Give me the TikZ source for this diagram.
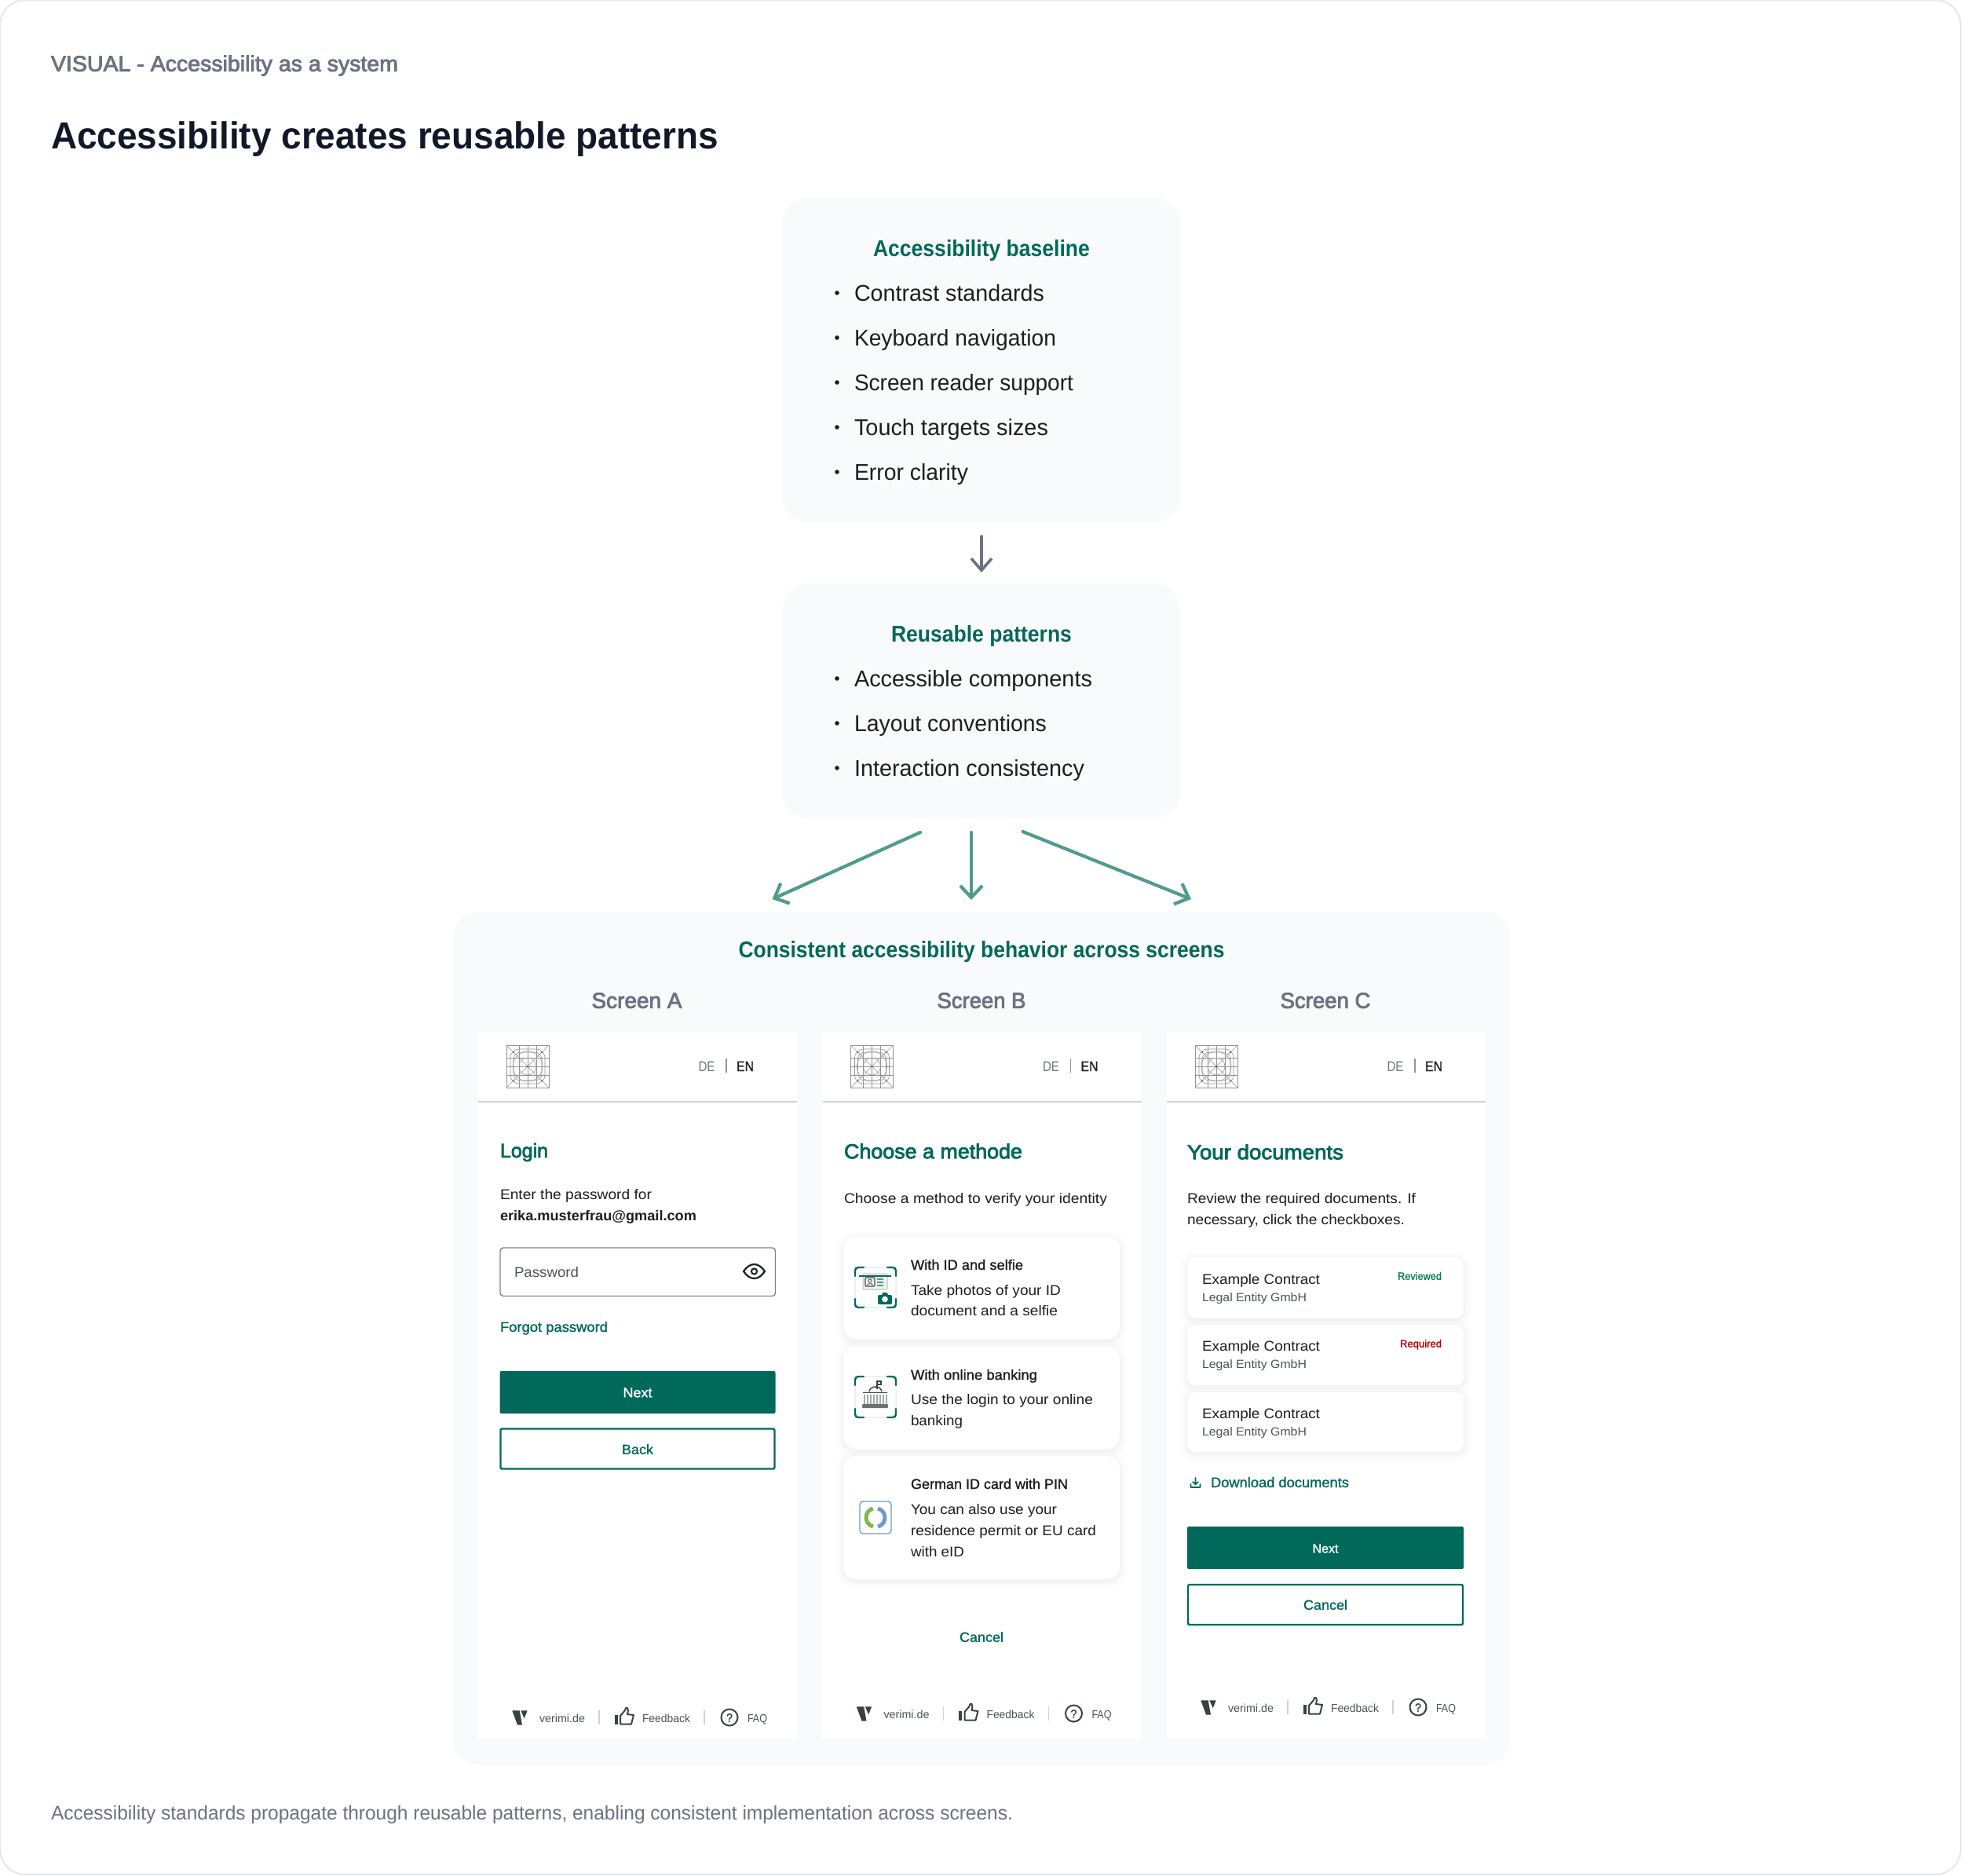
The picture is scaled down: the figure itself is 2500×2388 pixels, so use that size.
\documentclass[tikz,border=0pt]{standalone}
\usepackage{graphicx}
\usepackage{fontspec}
\setmainfont{Liberation Sans}
\newfontfamily\medf[FakeBold=1.2]{Liberation Sans}
\newfontfamily\semif[FakeBold=3]{Liberation Sans}
\usetikzlibrary{arrows.meta,calc}
\definecolor{brand}{HTML}{00695A}
\definecolor{arrowgreen}{HTML}{4F9C8E}
\definecolor{panelbg}{HTML}{F9FAFB}
\definecolor{frameline}{HTML}{E5E7EB}
\definecolor{greytxt}{HTML}{6B7280}
\definecolor{ink}{HTML}{111827}
\definecolor{dark}{HTML}{1C1F1E}
\definecolor{foot}{HTML}{4A5552}
\definecolor{footicon}{HTML}{34453F}
\definecolor{rule}{HTML}{CFD4D3}
\definecolor{ringgreen}{HTML}{7CB84A}
\definecolor{ringblue}{HTML}{6C9BD2}
\newsavebox\fitbox
\newcommand\fitw[2]{\sbox\fitbox{#2}\pgfmathsetmacro\fitr{#1/\the\wd\fitbox}\scalebox{\fitr}[1]{\usebox\fitbox}}
\newcounter{tn}
\newcommand\T[6][]{\stepcounter{tn}\node[txt,#1] (t\arabic{tn}) at ({#2},{#3+0.277*#5+2}) {\fontsize{#5}{#5}\selectfont\fitw{#4}{#6}};}
\newcommand\softcard[5]{%
  \foreach \s/\o in {10/0.006,7/0.008,4/0.012,2/0.016}{%
    \fill[black,opacity=\o,rounded corners=#5+\s] (#1-\s,#2-\s+2) rectangle (#3+\s,#4+\s+2);}
  \fill[white,rounded corners=#5] (#1,#2) rectangle (#3,#4);}
\newcommand\logogrid{%
  \begin{scope}[draw=black!42,line width=0.6pt]
    \draw (645,1331) rectangle (699,1385);
    \draw (645,1331) -- (699,1385) (699,1331) -- (645,1385);
    \draw[rounded corners=11pt] (650,1336) rectangle (694,1380);
    \draw[rounded corners=9pt] (654,1340) rectangle (690,1376);
    \draw (672,1358) circle (11);
    \draw (672,1358) circle (19);
    \foreach \d in {-11,0,11}{\draw (672+\d,1331) -- (672+\d,1385) (645,1358+\d) -- (699,1358+\d);}
  \end{scope}
  \fill[black!70] (672,1358) circle (1.2) (654,1340) circle (1) (690,1340) circle (1) (654,1376) circle (1) (690,1376) circle (1);}
\newcommand\screenhead{%
  \logogrid
  \T[text=foot!80,anchor=base]{900}{1357}{21}{18}{DE}
  \draw[rule!70!black,line width=1.5pt] (925,1348) -- (925,1366);
  \T[text=dark,anchor=base]{949}{1357}{22}{18}{\medf EN}
  \draw[rule,line width=2pt] (609,1403) -- (1015,1403);}
\newcommand\screenfoot{%
  \fill[footicon] (652.3,2178.3) -- (661.7,2178.3) -- (665,2196.7) -- (659,2196.7) -- cycle;
  \fill[footicon] (663.3,2178.3) -- (671.7,2178.3) -- (667.7,2188.3) -- cycle;
  \T[text=foot]{687}{2187}{58}{14.5}{verimi.de}
  \draw[rule,line width=1.5pt] (763,2178) -- (763,2196);
  \fill[footicon] (782.7,2184) rectangle (786.7,2196);
  \draw[footicon,line width=2pt,line join=round] (790,2185) -- (796,2178) -- (797,2175) -- (799,2175) -- (800,2178) -- (799,2183) -- (807,2184) -- (804,2195.5) -- (790,2195.5) -- cycle;
  \T[text=foot]{818}{2187}{61}{14.5}{Feedback}
  \draw[rule,line width=1.5pt] (897,2178) -- (897,2196);
  \draw[footicon,line width=2pt] (929,2187) circle (10.5);
  \T[text=footicon,anchor=base]{929}{2186.5}{8}{15}{\medf ?}
  \T[text=foot]{952}{2187}{25}{14.5}{FAQ}}
\newcommand\frameicon[4]{%
  \draw[black!7,line width=1.5pt,rounded corners=4pt] (#1,#2) rectangle (#3,#4);
  \draw[brand,line width=2.4pt,rounded corners=4pt,line cap=round]
    (#1,#2+11) -- (#1,#2) -- (#1+11,#2)
    (#3-11,#2) -- (#3,#2) -- (#3,#2+11)
    (#1,#4-11) -- (#1,#4) -- (#1+11,#4)
    (#3-11,#4) -- (#3,#4) -- (#3,#4-11);}
\tikzset{
  x=1pt,y=-1pt,
  txt/.style={anchor=base west,inner sep=0pt,outer sep=0pt},
  softbox/.style={fill=panelbg,rounded corners=32pt,inner sep=0pt,outer sep=0pt},
  screencard/.style={fill=white,inner sep=0pt,outer sep=0pt,minimum width=406pt,minimum height=901pt},
  flowdown/.style={draw=greytxt,line width=3.6pt,line cap=round,-{Straight Barb[length=15pt,width=26pt,line width=3.6pt]}},
  fanout/.style={draw=arrowgreen,line width=4.2pt,line cap=round,-{Straight Barb[length=15pt,width=28pt,line width=4.2pt]}},
  primarybtn/.style={fill=brand,rounded corners=2pt},
  outlinebtn/.style={draw=brand,fill=white,line width=2.4pt,rounded corners=2pt},
  heading/.style={text=brand,anchor=base},
  listitem/.style={text=dark},
  bullet/.style={fill=dark}
}
\begin{document}
\begin{tikzpicture}
\useasboundingbox (0,0) rectangle (2500,2388);
\fill[white] (0,0) rectangle (2500,2388);
\draw[frameline,line width=2pt,rounded corners=32pt] (0,0) rectangle (2497,2387);

\T[text=greytxt]{65}{81}{442}{28}{\semif VISUAL - Accessibility as a system}
\T[text=ink]{65}{174}{850}{48}{\bfseries Accessibility creates reusable patterns}

% baseline box
\node[softbox,minimum width=506pt,minimum height=413pt] (box1) at (1250,458.5) {};
\T[heading]{1250}{316.5}{276}{29}{\bfseries Accessibility baseline}
\foreach \yy/\ww/\tt in {373/242/Contrast standards,430/257/Keyboard navigation,487/279/Screen reader support,544/247/Touch targets sizes,601/145/Error clarity}{
  \fill[bullet] (1066,\yy) circle (2.8);
  \T[listitem]{1088}{\yy}{\ww}{29}{\tt}
}
% patterns box
\node[softbox,minimum width=506pt,minimum height=299pt] (box2) at (1250,892.5) {};
\T[heading]{1250}{807}{230}{29}{\bfseries Reusable patterns}
\foreach \yy/\ww/\tt in {864/303/Accessible components,921/245/Layout conventions,978/293/Interaction consistency}{
  \fill[bullet] (1066,\yy) circle (2.8);
  \T[listitem]{1088}{\yy}{\ww}{29}{\tt}
}
% panel
\node[softbox,minimum width=1346pt,minimum height=1086pt] (panel) at (1250,1704) {};
\T[heading]{1250}{1209}{619}{29}{\bfseries Consistent accessibility behavior across screens}
\T[text=greytxt,anchor=base]{811}{1274}{115}{28}{\semif Screen A}
\T[text=greytxt,anchor=base]{1250}{1274}{113}{28}{\semif Screen B}
\T[text=greytxt,anchor=base]{1688}{1274}{115}{28}{\semif Screen C}

% arrows
\coordinate (flowS) at ($(box1.south)+(0,18)$);
\coordinate (flowE) at ($(box2.north)+(0,-14)$);
\draw[flowdown] (flowS) -- (flowE);
\coordinate (fanLs) at ($(box2.south)+(-78,18)$);
\coordinate (fanLe) at ($(panel.north)+(-266.5,-16)$);
\coordinate (fanMs) at ($(box2.south)+(-13,18)$);
\coordinate (fanMe) at ($(panel.north)+(-13,-15)$);
\coordinate (fanRs) at ($(box2.south)+(52.5,17)$);
\coordinate (fanRe) at ($(panel.north)+(267,-16)$);
\draw[fanout] (fanLs) -- (fanLe);
\draw[fanout] (fanMs) -- (fanMe);
\draw[fanout] (fanRs) -- (fanRe);

% ---------- Screen A
\node[screencard] (screenA) at (812,1764) {};
\screenhead
\T[text=brand]{637}{1465}{61}{25}{\semif Login}
\T[text=dark]{637}{1520}{193}{18}{Enter the password for}
\T[text=dark]{637}{1547}{250}{18}{\bfseries erika.musterfrau@gmail.com}
\draw[black!50,line width=1.4pt,rounded corners=4pt] (637,1589) rectangle (987.5,1650.5);
\T[text=foot]{655}{1619}{82}{18}{Password}
\draw[dark,line width=2.2pt,line join=round] (947,1619) .. controls (955,1607) and (966,1607) .. (974,1619) .. controls (966,1631) and (955,1631) .. (947,1619) -- cycle;
\draw[dark,line width=2pt] (960.5,1619) circle (3.6);
\T[text=brand]{637}{1689}{137}{18}{\medf Forgot password}
\node[primarybtn,minimum width=351pt,minimum height=54pt,inner sep=0pt] (nextA) at (812,1773) {};
\T[text=white,anchor=base]{812}{1772.5}{37}{17.5}{\medf Next}
\node[outlinebtn,minimum width=349pt,minimum height=51pt,inner sep=0pt] (backA) at (812,1845) {};
\T[text=brand,anchor=base]{812}{1845}{40}{17.5}{\medf Back}
\screenfoot

% ---------- Screen B
\node[screencard] (screenB) at (1250,1764) {};
\begin{scope}[xshift=438.5pt]\screenhead\end{scope}
\T[text=brand]{1075}{1466}{227}{26}{\semif Choose a methode}
\T[text=dark]{1075}{1525}{335}{18}{Choose a method to verify your identity}
\softcard{1074}{1575}{1426}{1705}{16}
\softcard{1074}{1714}{1426}{1845}{16}
\softcard{1074}{1854}{1426}{2011}{16}
% id icon
\frameicon{1089}{1614}{1141}{1665}
\fill[black!6,draw=black!25,line width=1pt,rounded corners=1pt] (1099,1622) rectangle (1130,1642);
\draw[brand,line width=1.6pt] (1094,1625) -- (1135,1625);
\draw[black!70,line width=1.2pt,rounded corners=1pt] (1102,1627) rectangle (1114,1638);
\draw[black!60,line width=1pt] (1108,1631) circle (2);
\draw[black!60,line width=1pt] (1104.5,1637) .. controls (1105,1633.5) and (1111,1633.5) .. (1111.5,1637);
\draw[arrowgreen,line width=1.2pt] (1117,1629) -- (1125,1629) (1117,1633) -- (1125,1633) (1117,1637) -- (1125,1637);
\fill[brand,rounded corners=2pt] (1118,1649) rectangle (1136,1661);
\fill[brand] (1123,1649) -- (1124.5,1646) -- (1129.5,1646) -- (1131,1649) -- cycle;
\fill[white] (1127,1654.5) circle (3.8);
\T[text=dark]{1160}{1610}{143}{18}{\medf With ID and selfie}
\T[text=dark]{1160}{1642}{191}{18}{Take photos of your ID}
\T[text=dark]{1160}{1668}{187}{18}{document and a selfie}
% bank icon
\frameicon{1089}{1753}{1141}{1805}
\draw[footicon,line width=1.2pt] (1117,1769) -- (1117,1759) -- (1122,1759) -- (1122,1763) -- (1117,1763);
\draw[footicon,line width=1.4pt] (1107,1772) .. controls (1108,1764) and (1122,1764) .. (1123,1772);
\draw[footicon,line width=1.6pt] (1099,1773.5) -- (1130,1773.5);
\foreach \cx in {1101,1105,1109,1113,1117,1121,1125,1129}{\draw[footicon!45,line width=1.5pt] (\cx,1776) -- (\cx,1788);}
\fill[footicon!75,rounded corners=1pt] (1098,1788) rectangle (1131,1793);
\T[text=dark]{1160}{1750}{161}{18}{\medf With online banking}
\T[text=dark]{1160}{1781}{232}{18}{Use the login to your online}
\T[text=dark]{1160}{1808}{66}{18}{banking}
% eid icon
\draw[ringblue,line width=1.4pt,rounded corners=4pt] (1095,1912) rectangle (1135,1953);
\draw[ringgreen,line width=5pt] (1115,1932.5) ++(105:12) arc[start angle=105,end angle=255,radius=12];
\draw[ringblue,line width=5pt] (1115,1932.5) ++(-75:12) arc[start angle=-75,end angle=75,radius=12];
\T[text=dark]{1160}{1889}{200}{18}{\medf German ID card with PIN}
\T[text=dark]{1160}{1921}{186}{18}{You can also use your}
\T[text=dark]{1160}{1948}{236}{18}{residence permit or EU card}
\T[text=dark]{1160}{1975}{68}{18}{with eID}
\T[text=brand,anchor=base]{1250}{2084}{56}{17.5}{\medf Cancel}
\begin{scope}[xshift=438.5pt,yshift=5pt]\screenfoot\end{scope}

% ---------- Screen C
\node[screencard] (screenC) at (1688.5,1764) {};
\begin{scope}[xshift=877pt]\screenhead\end{scope}
\T[text=brand]{1512}{1467}{199}{26}{\semif Your documents}
\T[text=dark]{1512}{1525}{291}{18}{Review the required documents. If}
\T[text=dark]{1512}{1552}{277}{18}{necessary, click the checkboxes.}
\softcard{1512}{1602}{1864}{1678}{10}
\softcard{1512}{1687}{1864}{1764}{10}
\softcard{1512}{1773}{1864}{1849}{10}
\T[text=dark]{1531}{1628}{150}{18}{Example Contract}
\T[text=foot]{1531}{1651}{133}{15}{Legal Entity GmbH}
\T[text=dark]{1531}{1713.5}{150}{18}{Example Contract}
\T[text=foot]{1531}{1736.5}{133}{15}{Legal Entity GmbH}
\T[text=dark]{1531}{1799}{150}{18}{Example Contract}
\T[text=foot]{1531}{1822}{133}{15}{Legal Entity GmbH}
\T[text=brand!85!green,anchor=base east]{1836}{1624}{56}{13.5}{\medf Reviewed}
\T[text=red!70!black,anchor=base east]{1836}{1710}{53}{13.5}{\medf Required}
\draw[brand,line width=1.7pt,line join=round,line cap=round] (1522.5,1882) -- (1522.5,1890) (1519,1887) -- (1522.5,1890.5) -- (1526,1887) (1516.5,1890) -- (1516.5,1894) -- (1528.5,1894) -- (1528.5,1890);
\T[text=brand]{1542}{1887}{176}{18}{\medf Download documents}
\node[primarybtn,minimum width=352pt,minimum height=54pt,inner sep=0pt] (nextC) at (1688,1971) {};
\T[text=white,anchor=base]{1688}{1971}{33}{16}{\medf Next}
\node[outlinebtn,minimum width=350pt,minimum height=51pt,inner sep=0pt] (cancelC) at (1688,2043.5) {};
\T[text=brand,anchor=base]{1688}{2043}{56}{17.5}{\medf Cancel}
\begin{scope}[xshift=877pt,yshift=13pt]\screenfoot\end{scope}

\T[text=greytxt]{65}{2309}{1225}{25}{Accessibility standards propagate through reusable patterns, enabling consistent implementation across screens.}
\end{tikzpicture}
\end{document}
